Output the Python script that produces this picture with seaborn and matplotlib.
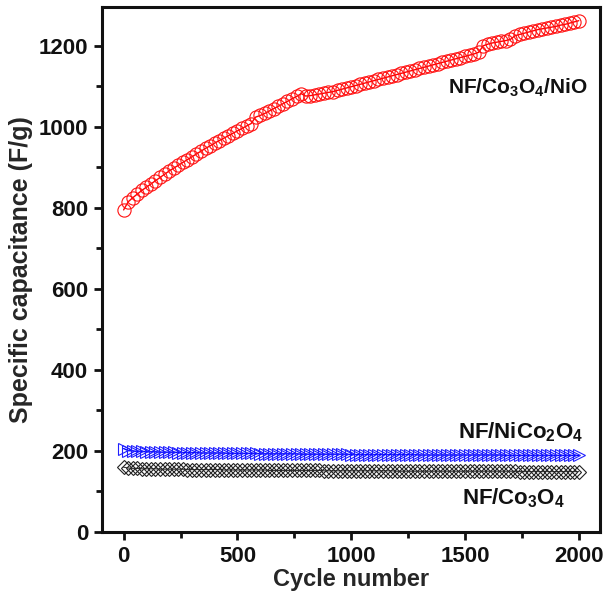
import numpy as np
import pandas as pd
import matplotlib
matplotlib.use("Agg")
import matplotlib.pyplot as plt
import seaborn as sns

sns.set_theme(style="ticks")
plt.rcParams["font.family"] = ["Liberation Sans", "DejaVu Sans"]
plt.rcParams["font.weight"] = "bold"
plt.rcParams["mathtext.fontset"] = "custom"
plt.rcParams["mathtext.rm"] = "Liberation Sans:bold"
plt.rcParams["mathtext.it"] = "Liberation Sans:bold"
plt.rcParams["mathtext.bf"] = "Liberation Sans:bold"

# cycle numbers (every 20 cycles)
cycles = list(range(0, 2001, 20))

cap_co3o4_nio = [
    795, 815, 825, 834, 843, 851, 859, 867, 875, 883,
    891, 898, 905, 912, 919, 926, 933, 940, 947, 953,
    960, 966, 972, 978, 984, 990, 996, 1002, 1008, 1024,
    1028, 1033, 1039, 1045, 1051, 1057, 1063, 1069, 1075, 1082,
    1076, 1077, 1079, 1081, 1083, 1085, 1087, 1090, 1093, 1096,
    1099, 1102, 1105, 1108, 1111, 1114, 1117, 1120, 1123, 1126,
    1129, 1132, 1135, 1138, 1141, 1144, 1147, 1150, 1153, 1156,
    1159, 1162, 1165, 1168, 1171, 1174, 1177, 1180, 1184, 1200,
    1204, 1207, 1209, 1211, 1213, 1216, 1225, 1228, 1231, 1234,
    1237, 1240, 1242, 1244, 1246, 1248, 1251, 1253, 1256, 1259,
    1262,
]

cap_nico2o4 = [
    206, 201, 200, 199, 199, 198, 198, 198, 197, 197,
    197, 197, 196, 196, 196, 196, 196, 195, 195, 195,
    195, 195, 195, 194, 194, 194, 194, 194, 194, 194,
    193, 193, 193, 193, 193, 193, 193, 193, 193, 192,
    192, 192, 192, 192, 192, 192, 192, 192, 192, 192,
    191, 191, 191, 191, 191, 191, 191, 191, 191, 191,
    191, 191, 191, 191, 191, 190, 190, 190, 190, 190,
    190, 190, 190, 190, 190, 190, 190, 190, 190, 190,
    190, 190, 190, 190, 189, 189, 189, 189, 189, 189,
    189, 189, 189, 189, 189, 189, 189, 189, 189, 189,
    189,
]

cap_co3o4 = [
    160, 158, 157, 157, 156, 156, 156, 156, 155, 155,
    155, 155, 155, 155, 154, 154, 154, 154, 154, 154,
    154, 154, 153, 153, 153, 153, 153, 153, 153, 153,
    153, 153, 152, 152, 152, 152, 152, 152, 152, 152,
    152, 152, 152, 152, 151, 151, 151, 151, 151, 151,
    151, 151, 151, 151, 151, 151, 151, 151, 151, 151,
    150, 150, 150, 150, 150, 150, 150, 150, 150, 150,
    150, 150, 150, 150, 150, 150, 150, 150, 150, 150,
    150, 150, 150, 150, 150, 150, 150, 149, 149, 149,
    149, 149, 149, 149, 149, 149, 149, 149, 149, 149,
    149,
]

x_ticks = [0, 500, 1000, 1500, 2000]
y_ticks = [0, 200, 400, 600, 800, 1000, 1200]

fig = plt.figure(figsize=(6.05, 6.01), dpi=100)
ax = fig.add_axes([0.1686, 0.1148, 0.823, 0.8737])

sns.lineplot(x=cycles, y=cap_co3o4, ax=ax, color="#333333", lw=0.8,
             marker="D", markersize=7.5, markerfacecolor="none",
             markeredgecolor="#222222", markeredgewidth=0.8)
sns.lineplot(x=cycles, y=cap_nico2o4, ax=ax, color="#0000ff", lw=1.0,
             marker=">", markersize=9, markerfacecolor="none",
             markeredgecolor="#2020ff", markeredgewidth=0.8)
sns.lineplot(x=cycles, y=cap_co3o4_nio, ax=ax, color="#ff0000", lw=1.0,
             marker="o", markersize=9.5, markerfacecolor="none",
             markeredgecolor="#ff1010", markeredgewidth=0.8)

ax.set_xlim(-95, 2093)
ax.set_ylim(0, 1296)
ax.set_xticks(x_ticks)
ax.set_yticks(y_ticks)
ax.set_xticks([250, 750, 1250, 1750], minor=True)
ax.set_yticks([100, 300, 500, 700, 900, 1100], minor=True)
ax.tick_params(which="major", direction="out", length=6, width=2,
               labelsize=16, pad=4, colors="#111111")
ax.tick_params(which="minor", direction="out", length=4, width=2,
               colors="#111111")
ax.tick_params(top=False, right=False)
for sp in ax.spines.values():
    sp.set_linewidth(2.2)
    sp.set_color("#111111")
for lab in ax.get_xticklabels() + ax.get_yticklabels():
    lab.set_fontweight("bold")

ax.set_xlabel("Cycle number", fontsize=17, fontweight="bold", labelpad=1)
ax.set_ylabel("Specific capacitance (F/g)", fontsize=18, fontweight="bold",
              labelpad=4)

ax.text(1734, 1096, r"NF/Co$_{3}$O$_{4}$/NiO", fontsize=15, fontweight="bold",
        ha="center", va="center", color="#111111")
ax.text(1743, 247, r"NF/NiCo$_{2}$O$_{4}$", fontsize=16, fontweight="bold",
        ha="center", va="center", color="#111111")
ax.text(1712, 84, r"NF/Co$_{3}$O$_{4}$", fontsize=16, fontweight="bold",
        ha="center", va="center", color="#111111")

fig.savefig("out.png", dpi=100)
